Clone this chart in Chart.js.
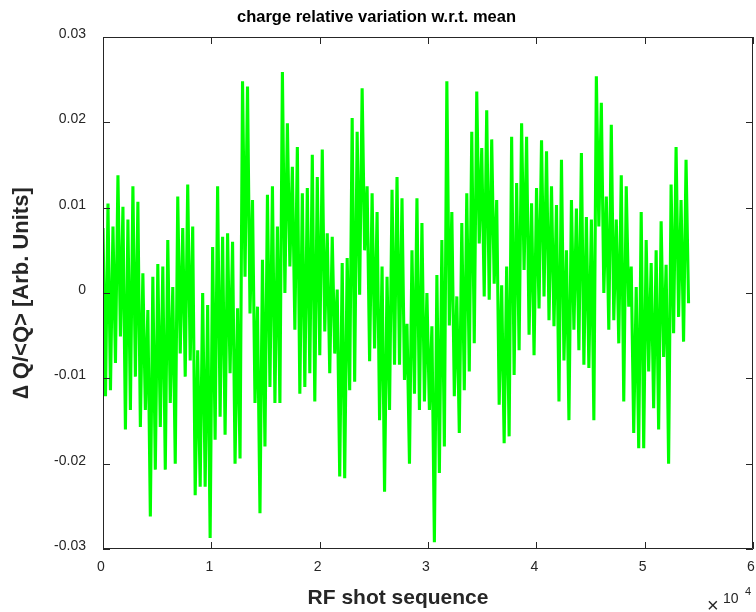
<!DOCTYPE html>
<html>
<head>
<meta charset="utf-8">
<script src="https://cdn.jsdelivr.net/npm/chart.js@4/dist/chart.umd.min.js"></script>
<style>
    html, body { margin: 0; padding: 0; background: #ffffff; }
    #wrap { width: 756px; height: 612px; }
</style>
</head>
<body>
<div id="wrap"><canvas id="chargeChart" width="756" height="612"></canvas></div>
<script>
// Texts
const titleText = 'charge relative variation w.r.t. mean';
const yAxisTitle = '\u2206 Q/<Q> [Arb. Units]';
const xAxisTitle = 'RF shot sequence';

// Tick positions
const xTicks = [0, 10000, 20000, 30000, 40000, 50000, 60000];
const yTicks = [-0.03, -0.02, -0.01, 0, 0.01, 0.02, 0.03];

// Shots between two consecutive envelope samples
const shotStep = 230;

// Upper envelope of the noisy trace (one value per block of ~460 shots)
const upperEnv = [
    0.0076, 0.0105, 0.0078, 0.0138, 0.0101, 0.0086, 0.0125, 0.0107, 0.0023, -0.0020,
    0.0019, 0.0034, 0.0031, 0.0062, 0.0007, 0.0113, 0.0076, 0.0127, 0.0078, -0.0067,
    0.0000, -0.0014, 0.0054, 0.0125, 0.0066, 0.0070, 0.0060, -0.0018, 0.0248, 0.0242,
    0.0109, -0.0016, 0.0039, 0.0115, 0.0125, 0.0078, 0.0259, 0.0199, 0.0148, 0.0171,
    0.0117, 0.0123, 0.0162, 0.0136, 0.0168, 0.0070, 0.0066, 0.0004, 0.0035, 0.0041,
    0.0205, 0.0189, 0.0240, 0.0125, 0.0117, 0.0095, 0.0031, 0.0019, 0.0121, 0.0136,
    0.0111, -0.0036, 0.0050, 0.0111, 0.0082, 0.0000, -0.0039, 0.0021, 0.0062, 0.0248,
    0.0095, -0.0004, 0.0082, 0.0117, 0.0189, 0.0236, 0.0170, 0.0214, 0.0180, 0.0109,
    0.0009, 0.0031, 0.0183, 0.0129, 0.0199, 0.0183, 0.0105, 0.0123, 0.0179, 0.0166,
    0.0125, 0.0103, 0.0156, 0.0050, 0.0109, 0.0099, 0.0164, 0.0089, 0.0086, 0.0254,
    0.0223, 0.0113, 0.0197, 0.0086, 0.0138, 0.0125, 0.0031, 0.0007, 0.0095, 0.0062,
    0.0035, 0.0050, 0.0084, 0.0033, 0.0127, 0.0171, 0.0109, 0.0156
];

// Lower envelope of the noisy trace
const lowerEnv = [
    -0.0121, -0.0114, -0.0082, -0.0051, -0.0160, -0.0137, -0.0098, -0.0157, -0.0137, -0.0262,
    -0.0207, -0.0157, -0.0207, -0.0129, -0.0200, -0.0071, -0.0098, -0.0079, -0.0237, -0.0227,
    -0.0227, -0.0287, -0.0172, -0.0145, -0.0166, -0.0094, -0.0200, -0.0194, 0.0019, -0.0024,
    -0.0129, -0.0258, -0.0180, -0.0110, -0.0129, -0.0129, 0.0000, 0.0031, -0.0043, -0.0118,
    -0.0110, -0.0094, -0.0127, -0.0073, -0.0045, -0.0094, -0.0071, -0.0215, -0.0217, -0.0114,
    -0.0104, -0.0002, 0.0050, -0.0080, -0.0065, -0.0149, -0.0233, -0.0137, -0.0084, -0.0084,
    -0.0102, -0.0200, -0.0118, -0.0137, -0.0127, -0.0137, -0.0292, -0.0211, -0.0180, -0.0038,
    -0.0121, -0.0164, -0.0114, -0.0092, -0.0059, 0.0058, -0.0004, -0.0008, 0.0011, -0.0131,
    -0.0176, -0.0168, -0.0096, -0.0067, 0.0027, -0.0049, -0.0073, -0.0018, -0.0004, -0.0032,
    -0.0039, -0.0127, -0.0079, -0.0149, -0.0043, -0.0067, -0.0084, -0.0088, -0.0149, 0.0078,
    0.0000, -0.0043, -0.0032, -0.0059, -0.0127, -0.0016, -0.0164, -0.0182, -0.0182, -0.0092,
    -0.0135, -0.0160, -0.0075, -0.0200, -0.0047, -0.0028, -0.0057, -0.0012
];

const fontFamily = '"Liberation Sans", Arial, Helvetica, sans-serif';
const axisColor = '#262626';

// Zigzag between the two envelopes so the trace looks like the dense original
const tracePoints = [];
for (let i = 0; i < upperEnv.length; i++) {
    tracePoints.push({ x: 2 * i * shotStep, y: upperEnv[i] });
    tracePoints.push({ x: (2 * i + 1) * shotStep, y: lowerEnv[i] });
}

// Box, inward ticks on all four sides, x title and the x10^4 multiplier
const matlabAxes = {
    id: 'matlabAxes',
    afterDraw(chart) {
        const { ctx, chartArea: a, scales: { x, y } } = chart;
        const tickLen = 7;
        ctx.save();
        ctx.strokeStyle = axisColor;
        ctx.lineWidth = 1;
        ctx.beginPath();
        ctx.rect(Math.round(a.left) + 0.5, Math.round(a.top) + 0.5,
                 Math.round(a.right - a.left) - 1, Math.round(a.bottom - a.top) - 1);
        xTicks.forEach(v => {
            const px = Math.round(x.getPixelForValue(v)) + 0.5;
            ctx.moveTo(px, a.bottom);
            ctx.lineTo(px, a.bottom - tickLen);
            ctx.moveTo(px, a.top);
            ctx.lineTo(px, a.top + tickLen);
        });
        yTicks.forEach(v => {
            const py = Math.round(y.getPixelForValue(v)) + 0.5;
            ctx.moveTo(a.left, py);
            ctx.lineTo(a.left + tickLen, py);
            ctx.moveTo(a.right, py);
            ctx.lineTo(a.right - tickLen, py);
        });
        ctx.stroke();

        ctx.fillStyle = axisColor;
        ctx.textAlign = 'center';
        ctx.textBaseline = 'alphabetic';
        ctx.font = 'bold 21px ' + fontFamily;
        ctx.fillText(xAxisTitle, 398, 604);

        ctx.textAlign = 'left';
        ctx.font = '20px ' + fontFamily;
        ctx.fillText('\u00d7', 707, 612);
        ctx.font = '14px ' + fontFamily;
        ctx.fillText('10', 723, 603);
        ctx.font = '11px ' + fontFamily;
        ctx.fillText('4', 745, 595);
        ctx.restore();
    }
};

const ctx = document.getElementById('chargeChart').getContext('2d');
const chargeChart = new Chart(ctx, {
    type: 'line',
    data: {
        datasets: [{
            data: tracePoints,
            borderColor: '#00ff00',
            borderWidth: 3.1,
            borderJoinStyle: 'bevel',
            pointRadius: 0,
            tension: 0,
            fill: false
        }]
    },
    options: {
        responsive: false,
        animation: false,
        events: [],
        layout: { padding: { left: 0, right: 3, top: 0, bottom: 0 } },
        plugins: {
            legend: { display: false },
            tooltip: { enabled: false },
            title: {
                display: true,
                text: titleText,
                color: '#000000',
                font: { family: fontFamily, size: 16.5, weight: 'bold' },
                padding: { top: 8, bottom: 9.2 }
            }
        },
        scales: {
            x: {
                type: 'linear',
                min: 0,
                max: 60000,
                afterBuildTicks: scale => { scale.ticks = xTicks.map(v => ({ value: v })); },
                afterFit: scale => {
                    scale.height = 63;
                    scale.paddingLeft = 0;
                    scale.paddingRight = 0;
                },
                grid: { display: false, drawTicks: false },
                border: { display: false },
                ticks: {
                    padding: 10,
                    labelOffset: -2,
                    maxRotation: 0,
                    color: axisColor,
                    font: { family: fontFamily, size: 14 },
                    callback: value => String(value / 10000)
                }
            },
            y: {
                type: 'linear',
                min: -0.03,
                max: 0.03,
                afterBuildTicks: scale => { scale.ticks = yTicks.map(v => ({ value: v })); },
                afterFit: scale => {
                    scale.width = 103;
                    scale.paddingTop = 0;
                    scale.paddingBottom = 0;
                },
                grid: { display: false, drawTicks: false },
                border: { display: false },
                ticks: {
                    padding: 17,
                    labelOffset: -3,
                    color: axisColor,
                    font: { family: fontFamily, size: 14 },
                    callback: value => (Math.abs(value) < 1e-9 ? '0' : value.toFixed(2))
                },
                title: {
                    display: true,
                    text: yAxisTitle,
                    color: axisColor,
                    font: { family: fontFamily, size: 22, weight: 'bold' },
                    padding: { top: 9, bottom: 0 }
                }
            }
        }
    },
    plugins: [matlabAxes]
});
</script>
</body>
</html>
